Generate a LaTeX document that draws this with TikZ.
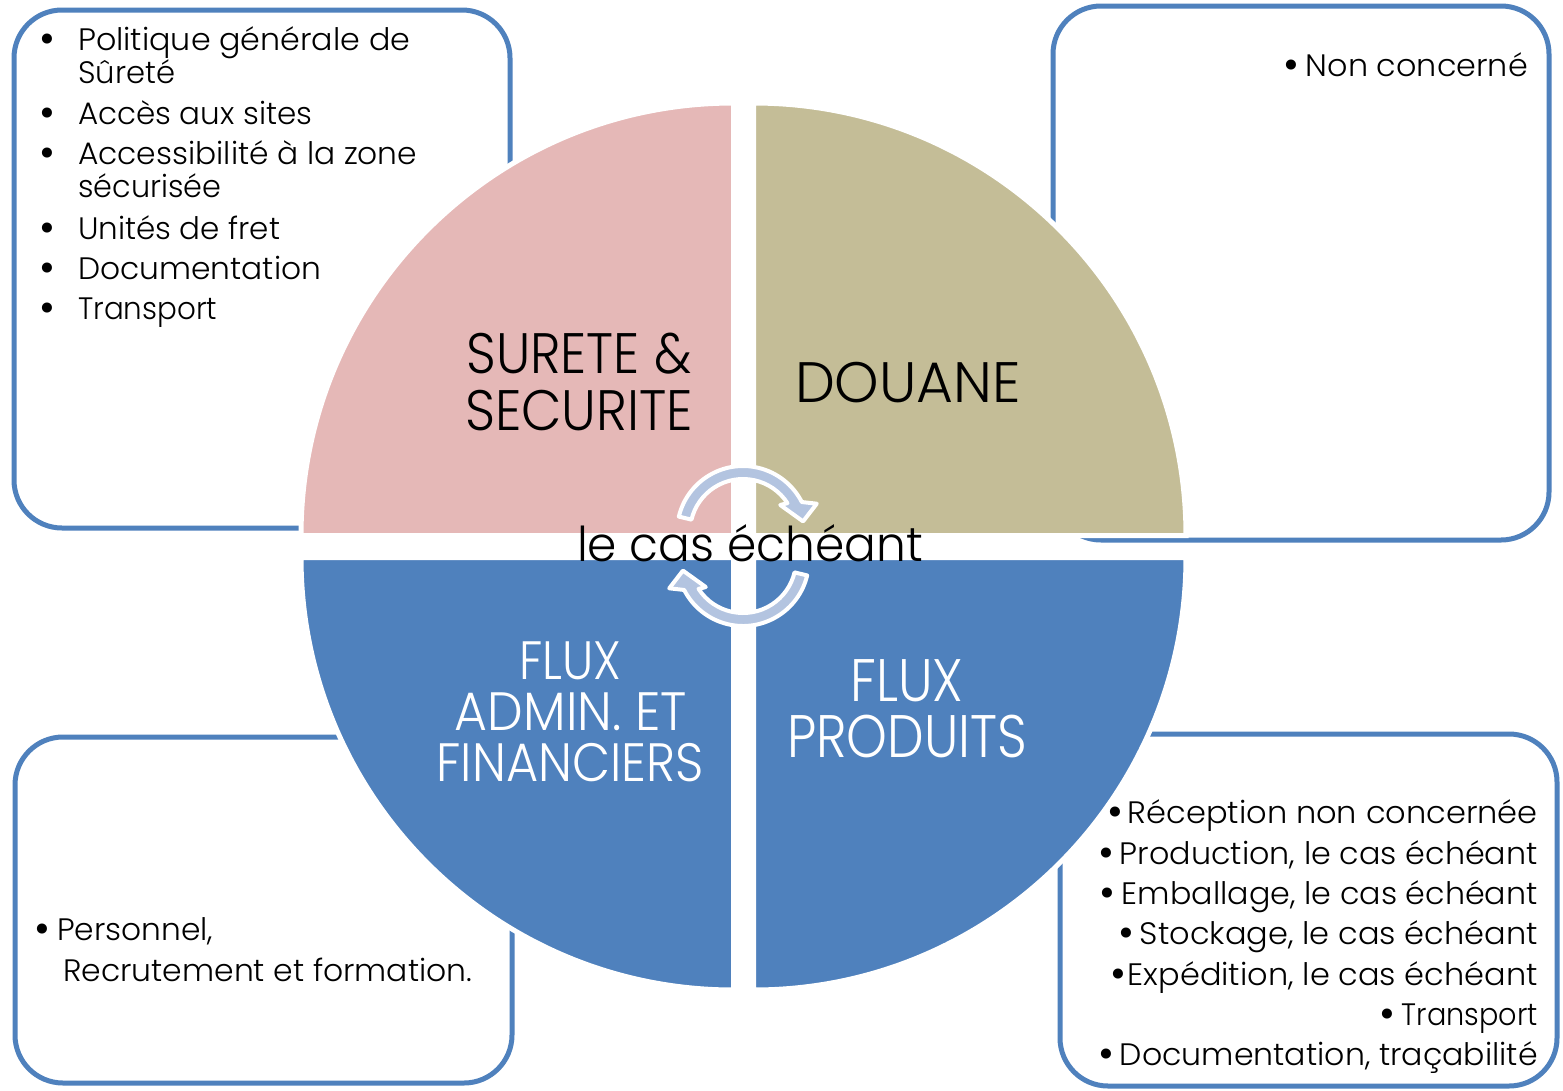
\documentclass[tikz,border=0pt]{standalone}
\usepackage{fontspec}
\setmainfont{Poppins}[UprightFont={* Light}]
\usepackage{graphicx}
\definecolor{boxblue}{RGB}{79,129,189}
\definecolor{pinkq}{RGB}{229,184,183}
\definecolor{tanq}{RGB}{196,189,151}
\definecolor{blueq}{RGB}{79,129,189}
\definecolor{arrowblue}{RGB}{179,196,224}
\newcommand{\fw}[2]{\resizebox{#1pt}{\height}{#2}}
\newcommand{\bul}{\raisebox{-3.5pt}{\scalebox{1.4}{\textbullet}}}
\begin{document}
\begin{tikzpicture}[x=1pt,y=-1pt,
  infobox/.style={draw=boxblue, line width=5pt, fill=white, rounded corners=48pt},
  quad/.style={draw=white, line width=5pt},
  cyc/.style={fill=arrowblue, draw=white, line width=4pt, line join=round},
  lst/.style={font=\fontsize{31}{36}\selectfont, inner sep=0pt, anchor=base west},
  lstr/.style={font=\fontsize{31}{36}\selectfont, inner sep=0pt, anchor=base east},
  blt/.style={font=\fontsize{31}{36}\selectfont, inner sep=0pt, anchor=base},
  big/.style={font=\fontsize{57}{60}\selectfont, inner sep=0pt, anchor=base}]
\useasboundingbox[fill=white] (0,0) rectangle (1563,1090);

% information boxes
\draw[infobox] (14,10) rectangle (510,528);
\draw[infobox] (1053,6) rectangle (1549,540);
\draw[infobox] (15,737) rectangle (512,1083);
\draw[infobox] (1060,734) rectangle (1557,1086);

% quadrants
\draw[quad, fill=pinkq] (733.5,535.5) -- (301,535.5) arc[start angle=180, end angle=270, radius=432.5] -- cycle;
\draw[quad, fill=tanq] (753.5,535.5) -- (753.5,103) arc[start angle=270, end angle=360, radius=432.5] -- cycle;
\draw[quad, fill=blueq] (733.5,557.5) -- (733.5,990) arc[start angle=90, end angle=180, radius=432.5] -- cycle;
\draw[quad, fill=blueq] (753.5,557.5) -- (1186,557.5) arc[start angle=0, end angle=90, radius=432.5] -- cycle;

% circular arrows
\begin{scope}[shift={(743,532)}]
\draw[cyc] (-166.5:66) arc[start angle=-166.5, end angle=-27, radius=66] -- (-21:79) -- (-10:61) -- (-36:46) -- (-33:53) arc[start angle=-33, end angle=-166.5, radius=53] -- cycle;
\end{scope}
\begin{scope}[shift={(743,560)}]
\draw[cyc] (13.5:66) arc[start angle=13.5, end angle=153, radius=66] -- (159:79) -- (170:61) -- (144:46) -- (147:53) arc[start angle=147, end angle=13.5, radius=53] -- cycle;
\end{scope}

% quadrant labels
\node[big] (s1) at (579,373) {\fw{225}{SURETE \&}};
\node[big] (s2) at (579,430) {\fw{228}{SECURITE}};
\node[big] (d1) at (908,402) {\fw{226}{DOUANE}};
\node[big, text=white, font=\fontsize{54}{56}\selectfont] (fa1) at (570,679) {\fw{102}{FLUX}};
\node[big, text=white, font=\fontsize{54}{56}\selectfont] (fa2) at (571,730) {\fw{232}{ADMIN. ET}};
\node[big, text=white, font=\fontsize{54}{56}\selectfont] (fa3) at (570,781) {\fw{267}{FINANCIERS}};
\node[big, text=white, font=\fontsize{60}{62}\selectfont] (fp1) at (907,701) {\fw{113}{FLUX}};
\node[big, text=white, font=\fontsize{60}{62}\selectfont] (fp2) at (907,757) {\fw{240}{PRODUITS}};
\node[big, font=\fontsize{48}{50}\selectfont] (lc) at (750,561) {\fw{346}{le cas échéant}};

% top-left list
\node[blt] (b1) at (47,50) {\bul};
\node[lst] (t1) at (78,50) {\fw{332}{Politique générale de}};
\node[lst] (t1b) at (78,83) {\fw{97}{Sûreté}};
\node[blt] (b2) at (47,124) {\bul};
\node[lst] (t2) at (78,124) {\fw{234}{Accès aux sites}};
\node[blt] (b3) at (47,164) {\bul};
\node[lst] (t3) at (78,164) {\fw{339}{Accessibilité à la zone}};
\node[lst] (t3b) at (78,197) {\fw{143}{sécurisée}};
\node[blt] (b4) at (47,239) {\bul};
\node[lst] (t4) at (78,239) {\fw{202}{Unités de fret}};
\node[blt] (b5) at (47,279) {\bul};
\node[lst] (t5) at (78,279) {\fw{243}{Documentation}};
\node[blt] (b6) at (47,319) {\bul};
\node[lst] (t6) at (78,319) {\fw{139}{Transport}};

% top-right
\node[blt] (nb) at (1291,76) {\bul};
\node[lstr] (nc) at (1528,76) {\fw{222}{Non concerné}};

% bottom-left
\node[blt] (pb) at (42,940) {\bul};
\node[lst] (p1) at (57,940) {\fw{156}{Personnel,}};
\node[lst] (p2) at (63,981) {\fw{409}{Recrutement et formation.}};

% bottom-right
\node[blt] (rb1) at (1115,823) {\bul};
\node[lstr] (r1) at (1538,823) {\fw{410}{Réception non concernée}};
\node[blt] (rb2) at (1106,864) {\bul};
\node[lstr] (r2) at (1538,864) {\fw{418}{Production, le cas échéant}};
\node[blt] (rb3) at (1107,904) {\bul};
\node[lstr] (r3) at (1538,904) {\fw{416}{Emballage, le cas échéant}};
\node[blt] (rb4) at (1126,944) {\bul};
\node[lstr] (r4) at (1538,944) {\fw{398}{Stockage, le cas échéant}};
\node[blt] (rb5) at (1118,985) {\bul};
\node[lstr] (r5) at (1538,985) {\fw{410}{Expédition, le cas échéant}};
\node[blt] (rb6) at (1387,1025) {\bul};
\node[lstr] (r6) at (1538,1025) {\fw{136}{Transport}};
\node[blt] (rb7) at (1106,1065) {\bul};
\node[lstr] (r7) at (1538,1065) {\fw{418}{Documentation, traçabilité}};
\end{tikzpicture}
\end{document}
